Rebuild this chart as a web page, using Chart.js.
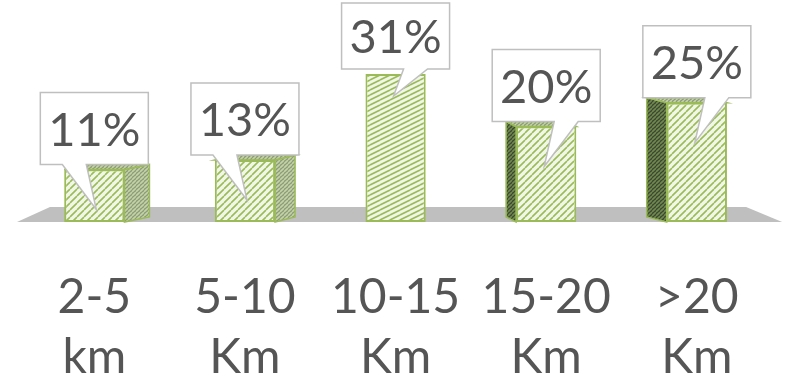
<!DOCTYPE html>
<html>
<head>
<meta charset="utf-8">
<script src="https://cdn.jsdelivr.net/npm/chart.js@4/dist/chart.umd.min.js"></script>
<style>
  html, body { margin: 0; background: #fff; }
  #wrap { width: 785px; height: 377px; }
</style>
</head>
<body>
<div id="wrap"><canvas id="distChart" width="785" height="377"></canvas></div>
<script>
// Commute distance bands and share of respondents
const distanceBands = [['2-5', 'km'], ['5-10', 'Km'], ['10-15', 'Km'], ['15-20', 'Km'], ['>20', 'Km']];
const sharePercent = [11, 13, 31, 20, 25];

// fake 3D depth per bar (px), positive = side face on the right
const depthDx = [25, 20, 0, -10, -20];
const depthDy = 5;
const pointerSide = [-1, -1, 1, 1, 1];

const FONT = 'Lato, "Open Sans", sans-serif';
const TEXT_COLOR = '#555555';
const GREEN = '#9bbb59';

function makeHatch(bg, line, size, steep) {
  const c = document.createElement('canvas');
  c.width = size; c.height = size;
  const g = c.getContext('2d');
  g.fillStyle = bg;
  g.fillRect(0, 0, size, size);
  g.strokeStyle = line;
  g.lineWidth = 1.6;
  g.beginPath();
  if (steep) {
    for (let k = -1; k <= 1; k++) {
      g.moveTo(k * size, size);
      g.lineTo(k * size + size, 0);
    }
  } else {
    // shallow stripes
    for (let k = -2; k <= 2; k++) {
      g.moveTo(0, k * size / 2 + size / 2);
      g.lineTo(size, k * size / 2);
    }
  }
  g.stroke();
  return g.createPattern(c, 'repeat');
}

const ctx = document.getElementById('distChart').getContext('2d');
const frontHatch = makeHatch('#f1f7e6', GREEN, 7, true);
const flatHatch = makeHatch('#f1f7e6', GREEN, 10, false);
const lightSide = makeHatch('#8d9a7c', '#c3d3a4', 4, true);
const darkSide = makeHatch('#3b4634', '#6f8a4c', 4, true);

const barFills = sharePercent.map((v, i) => depthDx[i] === 0 ? flatHatch : frontHatch);

const barDecor = {
  id: 'barDecor',
  beforeDatasetsDraw(chart) {
    // grey floor under the bars
    const a = chart.chartArea;
    const c = chart.ctx;
    c.save();
    c.fillStyle = '#bfbfbf';
    c.beginPath();
    c.moveTo(a.left + 31, a.bottom - 15);
    c.lineTo(a.right - 26, a.bottom - 15);
    c.lineTo(a.right + 10, a.bottom);
    c.lineTo(a.left - 2, a.bottom);
    c.closePath();
    c.fill();
    c.restore();
  },
  afterDatasetsDraw(chart) {
    const c = chart.ctx;
    const bars = chart.getDatasetMeta(0).data;
    c.save();
    // side and top faces
    bars.forEach((bar, i) => {
      const dx = depthDx[i];
      if (!dx) return;
      const p = bar.getProps(['x', 'y', 'base', 'width'], true);
      const left = p.x - p.width / 2, right = p.x + p.width / 2;
      const edge = dx > 0 ? right : left;
      c.fillStyle = dx > 0 ? lightSide : darkSide;
      c.strokeStyle = GREEN;
      c.lineWidth = 1.5;
      c.beginPath();
      c.moveTo(edge, p.y);
      c.lineTo(edge + dx, p.y - depthDy);
      c.lineTo(edge + dx, p.base - depthDy);
      c.lineTo(edge, p.base);
      c.closePath();
      c.fill();
      c.stroke();
      c.fillStyle = lightSide;
      c.beginPath();
      c.moveTo(left, p.y);
      c.lineTo(left + dx, p.y - depthDy);
      c.lineTo(right + dx, p.y - depthDy);
      c.lineTo(right, p.y);
      c.closePath();
      c.fill();
      c.stroke();
    });
    // callout labels
    const w = 108, h = 72;
    bars.forEach((bar, i) => {
      const p = bar.getProps(['x', 'y'], true);
      const bx = p.x - w / 2;
      const bottom = p.y - 5;
      const top = Math.max(bottom - h, 3);
      const s = pointerSide[i];
      const tipY = p.y + (depthDx[i] === 0 ? 22 : 40);
      const b1 = p.x + s * 8, b2 = p.x + s * 32;
      const tipX = p.x - s * 2;
      c.fillStyle = '#ffffff';
      c.strokeStyle = '#bfbfbf';
      c.lineWidth = 1.5;
      c.beginPath();
      c.moveTo(bx, top);
      c.lineTo(bx + w, top);
      c.lineTo(bx + w, bottom);
      c.lineTo(Math.max(b1, b2), bottom);
      c.lineTo(tipX, tipY);
      c.lineTo(Math.min(b1, b2), bottom);
      c.lineTo(bx, bottom);
      c.closePath();
      c.fill();
      c.stroke();
      c.fillStyle = TEXT_COLOR;
      c.font = '47px ' + FONT;
      c.textAlign = 'center';
      c.textBaseline = 'middle';
      c.fillText(sharePercent[i] + '%', p.x, (top + bottom) / 2 + 2);
    });
    c.restore();
  }
};

new Chart(ctx, {
  type: 'bar',
  data: {
    labels: distanceBands,
    datasets: [{
      data: sharePercent,
      backgroundColor: barFills,
      borderColor: GREEN,
      borderWidth: 2,
      borderSkipped: false,
      barPercentage: 0.4,
      categoryPercentage: 1
    }]
  },
  options: {
    responsive: false,
    animation: false,
    layout: { padding: { left: 19, right: 4, top: 0, bottom: 0 } },
    plugins: {
      legend: { display: false },
      tooltip: { enabled: false }
    },
    scales: {
      y: { display: false, min: 0, max: 46.5 },
      x: {
        grid: { display: false, drawTicks: false },
        border: { display: false },
        ticks: {
          color: TEXT_COLOR,
          font: { family: FONT, size: 48, lineHeight: 1.25 },
          padding: 46,
          maxRotation: 0,
          autoSkip: false
        },
        afterFit(scale) { scale.height = 155; }
      }
    }
  },
  plugins: [barDecor]
});
</script>
</body>
</html>
